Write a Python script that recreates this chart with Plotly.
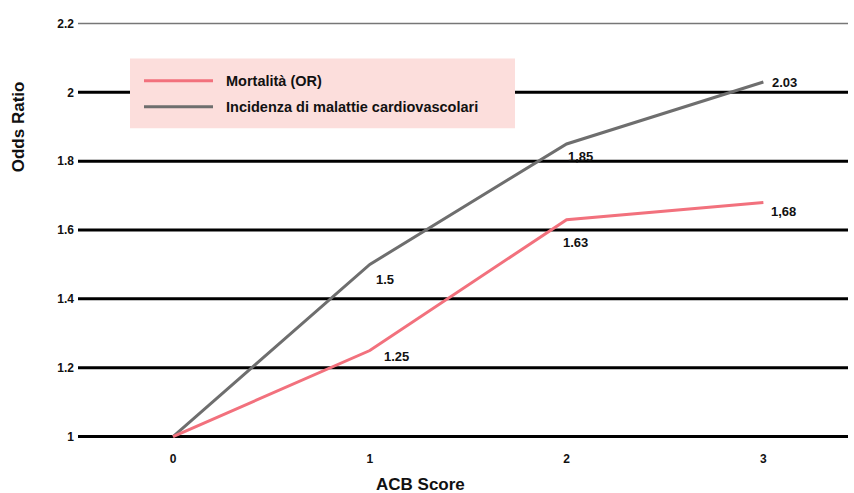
import plotly.graph_objects as go

# ACB score categories and odds ratios
acb_scores = [0, 1, 2, 3]
mortality_or = [1.0, 1.25, 1.63, 1.68]
cardio_or = [1.0, 1.5, 1.85, 2.03]

# value labels as printed next to the points ("" = no label)
mortality_labels = ["", "1.25", "1.63", "1,68"]
cardio_labels = ["", "1.5", "1,85", "2.03"]

y_ticks = [1, 1.2, 1.4, 1.6, 1.8, 2, 2.2]
y_tick_text = ["1", "1.2", "1.4", "1.6", "1.8", "2", "2.2"]

series_names = ["Mortalità (OR)", "Incidenza di malattie cardiovascolari"]
PINK = "#F2717D"
GREY = "#6E6E6E"
FONT = "Liberation Sans, Arial, sans-serif"
INK = "#111111"

fig = go.Figure()
fig.add_trace(go.Scatter(x=acb_scores, y=cardio_or, mode="lines",
                         line=dict(color=GREY, width=3), name=series_names[1],
                         showlegend=False))
fig.add_trace(go.Scatter(x=acb_scores, y=mortality_or, mode="lines",
                         line=dict(color=PINK, width=3), name=series_names[0],
                         showlegend=False))

# horizontal grid lines: thick black, with a thin grey line on top
shapes = []
for v in y_ticks:
    top = v == max(y_ticks)
    shapes.append(dict(type="line", xref="paper", yref="y", x0=0, x1=1, y0=v, y1=v,
                       line=dict(color="#777777" if top else "black", width=1.5 if top else 3),
                       layer="below"))

# legend panel
shapes.append(dict(type="rect", xref="paper", yref="paper",
                   x0=(130 - 78) / 770, x1=(515 - 78) / 770,
                   y0=(440.5 - 128) / 422, y1=(440.5 - 58) / 422,
                   fillcolor="#FCDEDC", line=dict(width=0), layer="above"))
legend_rows = [(80.5, PINK, series_names[0]), (106.5, GREY, series_names[1])]
annotations = []
for ypx, col, name in legend_rows:
    yp = (440.5 - ypx) / 422
    shapes.append(dict(type="line", xref="paper", yref="paper",
                       x0=(144 - 78) / 770, x1=(213 - 78) / 770, y0=yp, y1=yp,
                       line=dict(color=col, width=3), layer="above"))
    annotations.append(dict(xref="paper", yref="paper", x=(224 - 78) / 770, y=yp,
                            text=name, showarrow=False, xanchor="left", yanchor="middle",
                            font=dict(family=FONT, size=14.5, color=INK, weight="bold")))

# value labels beside the points
cardio_offsets = [None, (15, -15), (14, -13), (21, 0)]
mortality_offsets = [None, (27, -6), (9, -23), (20, -9)]
for xs, ys, labels, offs in [(acb_scores, cardio_or, cardio_labels, cardio_offsets),
                             (acb_scores, mortality_or, mortality_labels, mortality_offsets)]:
    for x, y, t, o in zip(xs, ys, labels, offs):
        if not t:
            continue
        annotations.append(dict(x=x, y=y, xref="x", yref="y", text=t, showarrow=False,
                                xshift=o[0], yshift=o[1],
                                font=dict(family=FONT, size=13, color=INK, weight="bold")))

# y-axis title
annotations.append(dict(xref="paper", yref="paper", x=-(78 - 18) / 770, y=(440.5 - 127) / 422,
                        text="Odds Ratio", textangle=-90, showarrow=False,
                        xanchor="center", yanchor="middle",
                        font=dict(family=FONT, size=17, color=INK, weight="bold")))

# x-axis title
annotations.append(dict(xref="paper", yref="paper", x=(420 - 78) / 770, y=-(485 - 440.5) / 422,
                        text="ACB Score", showarrow=False,
                        xanchor="center", yanchor="middle",
                        font=dict(family=FONT, size=17, color=INK, weight="bold")))

fig.update_layout(
    width=854, height=493,
    margin=dict(l=78, r=6, t=18.5, b=52.5),
    paper_bgcolor="white", plot_bgcolor="white",
    shapes=shapes, annotations=annotations,
    showlegend=False,
    xaxis=dict(range=[-0.483, 3.43], tickvals=acb_scores, ticktext=[str(s) for s in acb_scores],
               showgrid=False, zeroline=False, showline=False, ticks="",
               ticklabelstandoff=10,
               tickfont=dict(family=FONT, size=12, color=INK, weight="bold")),
    yaxis=dict(range=[0.99, 2.213], tickvals=y_ticks, ticktext=y_tick_text,
               showgrid=False, zeroline=False, showline=False, ticks="",
               ticklabelstandoff=3,
               tickfont=dict(family=FONT, size=12, color=INK, weight="bold")),
)

fig.write_html("out.html")
